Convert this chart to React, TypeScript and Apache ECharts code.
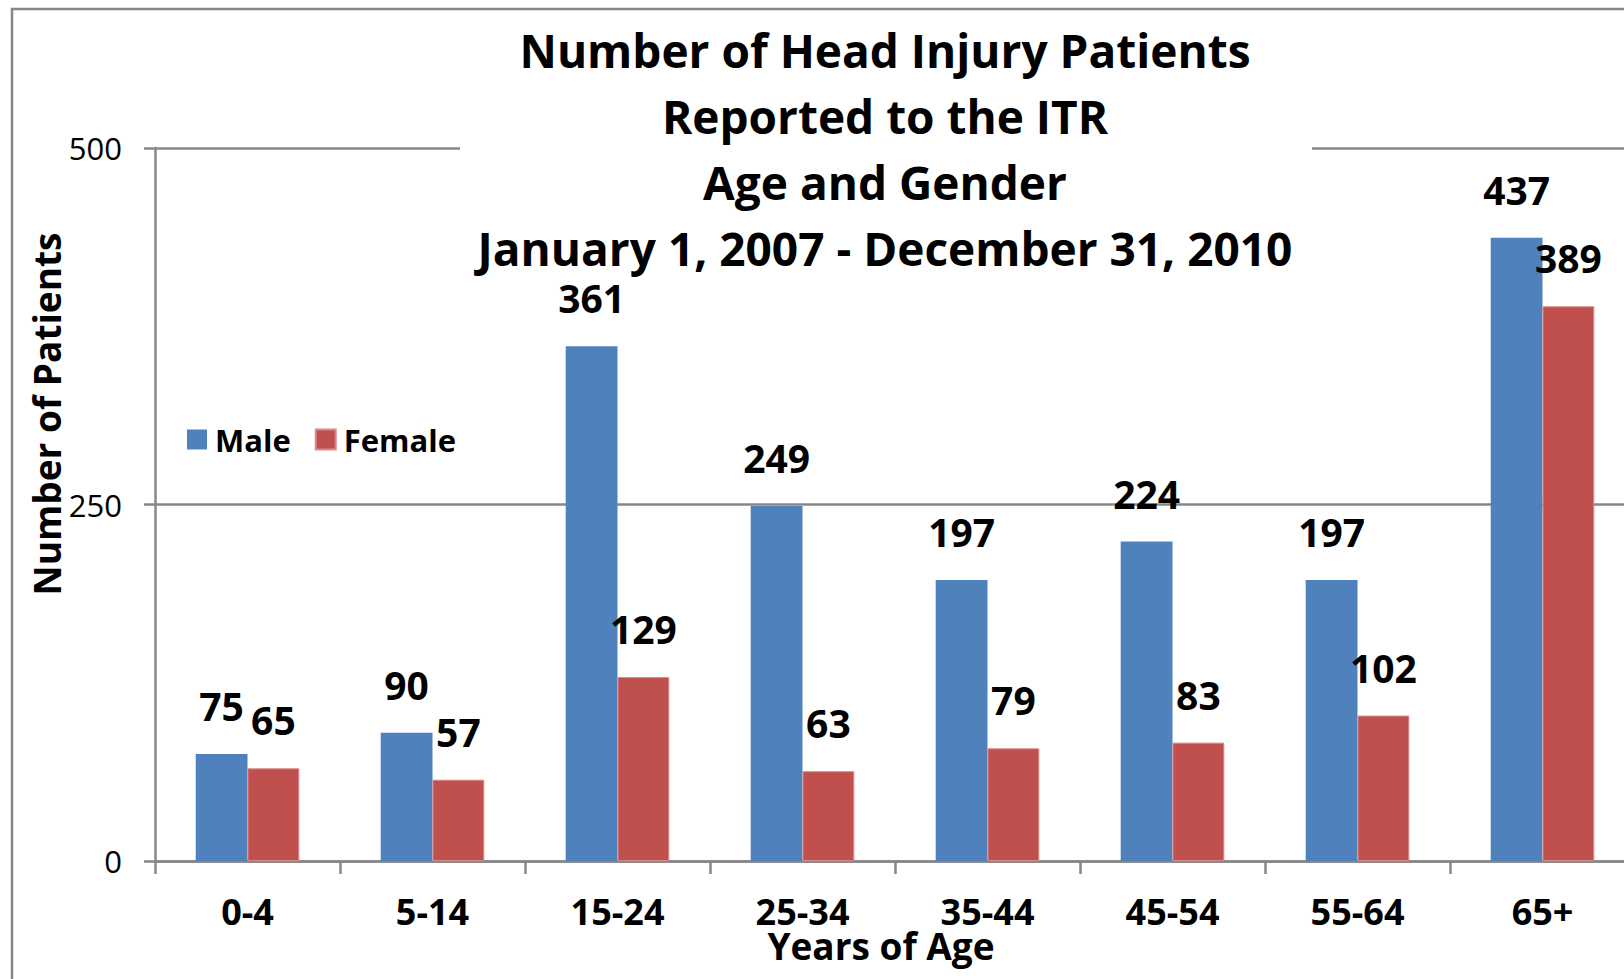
import React, { useEffect, useRef } from "react";
import * as echarts from "echarts";

const categories = ["0-4", "5-14", "15-24", "25-34", "35-44", "45-54", "55-64", "65+"];
const maleValues = [75, 90, 361, 249, 197, 224, 197, 437];
const femaleValues = [65, 57, 129, 63, 79, 83, 102, 389];
const titleLines = [
  "Number of Head Injury Patients",
  "Reported to the ITR",
  "Age and Gender",
  "January 1, 2007 - December 31, 2010",
];
const yTicks = { min: 0, max: 500, interval: 250 };

const FONT = "'Open Sans', 'DejaVu Sans', sans-serif";
const GRAY = "#878787";

export default function App() {
  const ref = useRef<HTMLDivElement>(null);
  useEffect(() => {
    if (!ref.current) return;
    const chart = echarts.init(ref.current, undefined, { renderer: "svg" });
    const labelCfg = {
      show: true,
      position: "top",
      distance: 29,
      fontFamily: FONT,
      fontWeight: "bold",
      fontSize: 39,
      color: "#000",
    };
    chart.setOption({
      animation: false,
      backgroundColor: "#fff",
      textStyle: { fontFamily: FONT },
      grid: { left: 155, top: 148, right: 5, bottom: 118, containLabel: false },
      legend: {
        left: 182,
        top: 419,
        itemWidth: 20,
        itemHeight: 20,
        itemGap: 24,
        icon: "rect",
        textStyle: { fontFamily: FONT, fontWeight: "bold", fontSize: 31, color: "#000", padding: [0, 0, 0, 3] },
        data: ["Male", "Female"],
      },
      xAxis: {
        type: "category",
        data: categories,
        axisLine: { lineStyle: { color: GRAY, width: 2.5 } },
        axisTick: { show: true, length: 13, lineStyle: { color: GRAY, width: 2.5 } },
        axisLabel: { fontFamily: FONT, fontWeight: "bold", fontSize: 36, color: "#000", margin: 32 },
      },
      yAxis: {
        type: "value",
        min: yTicks.min,
        max: yTicks.max,
        interval: yTicks.interval,
        axisLine: { show: true, lineStyle: { color: GRAY, width: 2.5 } },
        axisTick: { show: true, length: 11, lineStyle: { color: GRAY, width: 2.5 } },
        axisLabel: { fontFamily: FONT, fontSize: 31, color: "#000", margin: 33 },
        splitLine: { show: true, lineStyle: { color: GRAY, width: 2.5 } },
      },
      series: [
        {
          name: "Male",
          type: "bar",
          data: maleValues,
          barGap: "0%",
          barCategoryGap: "44%",
          itemStyle: { color: "#4F81BD" },
          label: labelCfg,
        },
        {
          name: "Female",
          type: "bar",
          data: femaleValues,
          barGap: "0%",
          barCategoryGap: "44%",
          itemStyle: { color: "#C0504D", borderColor: "#D98A88", borderWidth: 1 },
          label: labelCfg,
        },
      ],
      graphic: [
        {
          type: "rect",
          z: 1,
          silent: true,
          shape: { x: 12, y: 9, width: 1700, height: 1100 },
          style: { fill: "none", stroke: GRAY, lineWidth: 2.5 },
        },
        {
          type: "rect",
          z: 100,
          silent: true,
          shape: { x: 460, y: 138, width: 852, height: 20 },
          style: { fill: "#fff" },
        },
        {
          type: "text",
          z: 101,
          x: 885,
          y: 17,
          style: {
            text: titleLines.join("\n"),
            fontFamily: FONT,
            fontWeight: "bold",
            fontSize: 46,
            lineHeight: 66,
            fill: "#000",
            align: "center",
            verticalAlign: "top",
          },
        },
        {
          type: "text",
          z: 101,
          x: 46,
          y: 414,
          rotation: Math.PI / 2,
          style: {
            text: "Number of Patients",
            fontFamily: FONT,
            fontWeight: "bold",
            fontSize: 37,
            fill: "#000",
            align: "center",
            verticalAlign: "middle",
          },
        },
        {
          type: "text",
          z: 101,
          x: 881,
          y: 945,
          style: {
            text: "Years of Age",
            fontFamily: FONT,
            fontWeight: "bold",
            fontSize: 37,
            fill: "#000",
            align: "center",
            verticalAlign: "middle",
          },
        },
      ],
    });
    return () => chart.dispose();
  }, []);
  return (
    <div
      style={{ position: "absolute", left: 0, top: 0, width: 1624, height: 979, overflow: "hidden", background: "#fff" }}
    >
      <div ref={ref} style={{ width: 1640, height: 979 }} />
    </div>
  );
}
